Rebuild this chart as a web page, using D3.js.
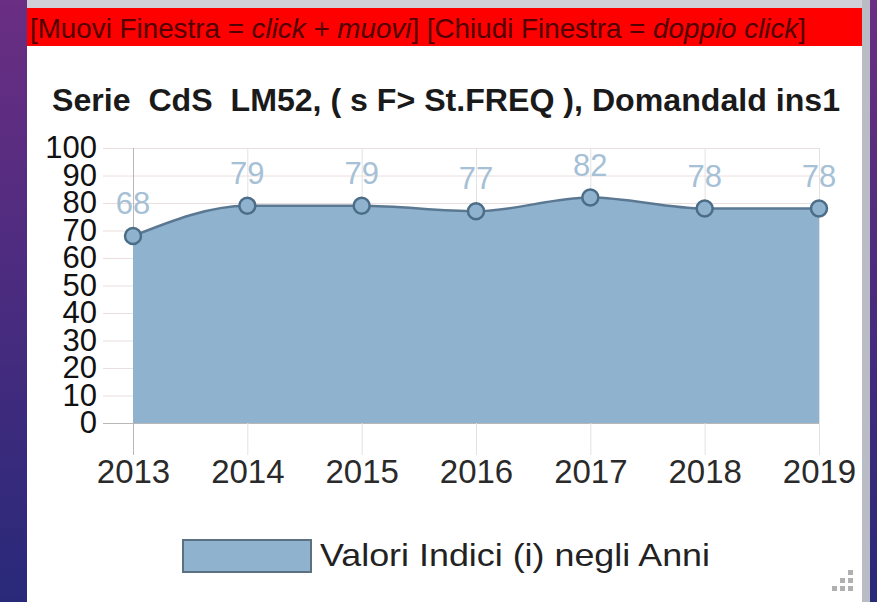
<!DOCTYPE html>
<html>
<head>
<meta charset="utf-8">
<script src="https://cdn.jsdelivr.net/npm/d3@7"></script>
<style>
  html, body { margin: 0; padding: 0; background: #fff; }
  svg { display: block; }
  text { font-family: "Liberation Sans", Arial, sans-serif; }
</style>
</head>
<body>
<script>
const years = ["2013", "2014", "2015", "2016", "2017", "2018", "2019"];
const values = [68, 79, 79, 77, 82, 78, 78];
const yTicks = [0, 10, 20, 30, 40, 50, 60, 70, 80, 90, 100];
const titleText = "Serie\u00a0\u00a0CdS\u00a0\u00a0LM52, ( s F> St.FREQ ), Domandald ins1";
const seriesName = "Valori Indici (i) negli Anni";
const barParts = [
    { t: "[Muovi Finestra = ", it: false },
    { t: "click + muovi", it: true },
    { t: "] [Chiudi Finestra = ", it: false },
    { t: "doppio click", it: true },
    { t: "]", it: false }
];

const width = 877;
const height = 602;

const svg = d3.select("body").append("svg")
    .attr("width", width)
    .attr("height", height);

// background frame (desktop behind the popup)
const defs = svg.append("defs");
const grad = defs.append("linearGradient")
    .attr("id", "bg").attr("x1", 0).attr("y1", 0).attr("x2", 0).attr("y2", 1);
grad.append("stop").attr("offset", "0%").attr("stop-color", "#6a2e83");
grad.append("stop").attr("offset", "100%").attr("stop-color", "#29297a");

svg.append("rect").attr("width", width).attr("height", height).attr("fill", "url(#bg)");
svg.append("rect").attr("x", 27).attr("y", 0).attr("width", 836).attr("height", 9).attr("fill", "#cfd0d8");
svg.append("rect").attr("x", 862).attr("y", 0).attr("width", 8).attr("height", height).attr("fill", "#b9bcc4");
svg.append("rect").attr("x", 27).attr("y", 8).attr("width", 835).attr("height", height - 8).attr("fill", "#ffffff");

// red header bar
svg.append("rect").attr("x", 27).attr("y", 8).attr("width", 835).attr("height", 38).attr("fill", "#ff0000");
const bar = svg.append("text")
    .attr("x", 30).attr("y", 38)
    .attr("font-size", 28)
    .attr("fill", "#520000")
    .attr("textLength", 776)
    .attr("lengthAdjust", "spacingAndGlyphs");
bar.selectAll("tspan").data(barParts).enter().append("tspan")
    .attr("font-style", d => d.it ? "italic" : "normal")
    .text(d => d.t);

// title
svg.append("text")
    .attr("x", 52).attr("y", 111)
    .attr("font-size", 31)
    .attr("font-weight", "bold")
    .attr("fill", "#1a1a1a")
    .attr("textLength", 788)
    .attr("lengthAdjust", "spacingAndGlyphs")
    .text(titleText);

const x = d3.scalePoint().domain(years).range([133, 819]);
const y = d3.scaleLinear().domain([0, 100]).range([423, 148]);

// y axis + horizontal grid
const yAxis = svg.append("g")
    .attr("transform", "translate(103,0)")
    .call(d3.axisLeft(y).tickValues(yTicks).tickSizeInner(-716).tickSizeOuter(0).tickPadding(6));
yAxis.select(".domain").remove();
yAxis.selectAll(".tick line").attr("stroke", d => d === 0 ? "#b8b8b8" : "#eadede");
yAxis.selectAll(".tick text")
    .attr("font-size", 31)
    .attr("fill", "#111")
    .attr("font-family", "'Liberation Sans', Arial, sans-serif");

// x axis + vertical grid
const xAxis = svg.append("g")
    .attr("transform", "translate(0,455)")
    .call(d3.axisBottom(x).tickSizeInner(-307).tickSizeOuter(0).tickPadding(5));
xAxis.select(".domain").remove();
xAxis.selectAll(".tick line").attr("stroke", (d, i) => i === 0 ? "#b8b8b8" : "#e2e2e2");
xAxis.selectAll(".tick text")
    .attr("font-size", 33)
    .attr("fill", "#2a2a2a")
    .attr("font-family", "'Liberation Sans', Arial, sans-serif");

const pts = years.map((yr, i) => ({ year: yr, value: values[i] }));

const area = d3.area()
    .x(d => x(d.year))
    .y0(y(0))
    .y1(d => y(d.value))
    .curve(d3.curveMonotoneX);

const line = d3.line()
    .x(d => x(d.year))
    .y(d => y(d.value))
    .curve(d3.curveMonotoneX);

svg.append("path")
    .datum(pts)
    .attr("fill", "#8fb3cf")
    .attr("d", area);

svg.append("path")
    .datum(pts)
    .attr("fill", "none")
    .attr("stroke", "#5b7892")
    .attr("stroke-width", 2.5)
    .attr("d", line);

svg.selectAll(".marker")
    .data(pts)
    .enter()
    .append("circle")
    .attr("class", "marker")
    .attr("cx", d => x(d.year))
    .attr("cy", d => y(d.value))
    .attr("r", 8)
    .attr("fill", "#8fb3cf")
    .attr("stroke", "#4c6d87")
    .attr("stroke-width", 2.5);

svg.selectAll(".vlabel")
    .data(pts)
    .enter()
    .append("text")
    .attr("class", "vlabel")
    .attr("x", d => x(d.year))
    .attr("y", d => y(d.value) - 22)
    .attr("text-anchor", "middle")
    .attr("font-size", 31)
    .attr("fill", "#a6c0d6")
    .text(d => d.value);

// legend
svg.append("rect")
    .attr("x", 183).attr("y", 540)
    .attr("width", 128).attr("height", 32)
    .attr("fill", "#8fb3cf")
    .attr("stroke", "#5b7080")
    .attr("stroke-width", 2);
svg.append("text")
    .attr("x", 320).attr("y", 566)
    .attr("font-size", 32)
    .attr("fill", "#222")
    .attr("textLength", 390)
    .attr("lengthAdjust", "spacingAndGlyphs")
    .text(seriesName);

// resize grip
const grip = [[2, 0], [1, 1], [2, 1], [0, 2], [1, 2], [2, 2]];
svg.selectAll(".grip")
    .data(grip)
    .enter()
    .append("rect")
    .attr("x", d => 832 + d[0] * 8)
    .attr("y", d => 570 + d[1] * 8)
    .attr("width", 5).attr("height", 5)
    .attr("fill", "#b0b0b0");
</script>
</body>
</html>
